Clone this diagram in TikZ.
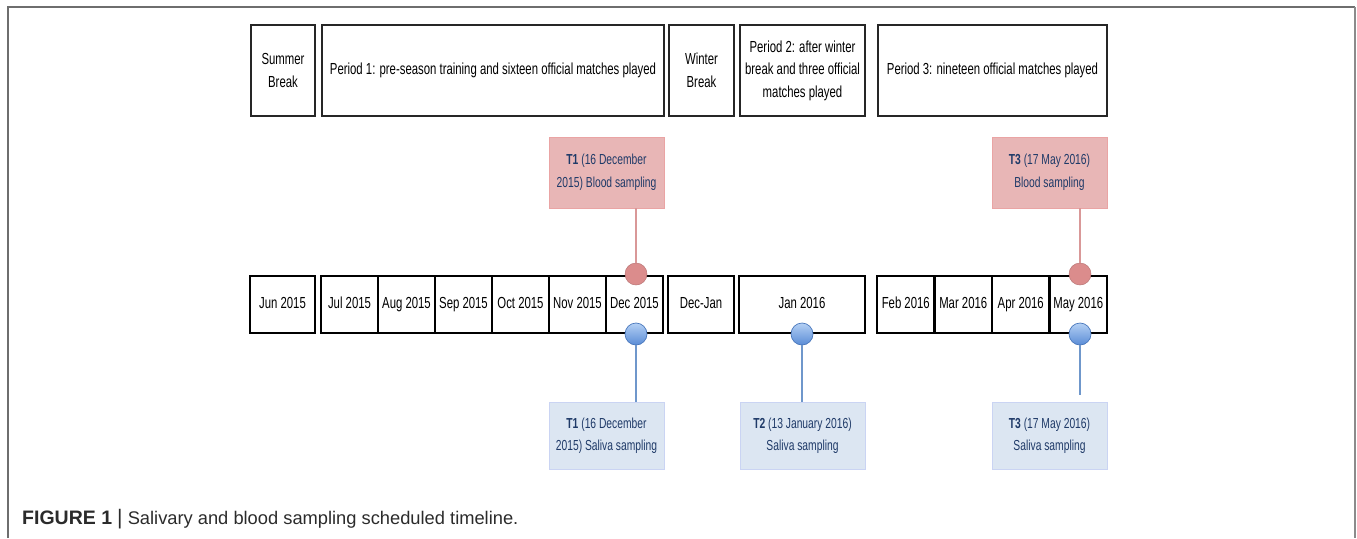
\documentclass[tikz,border=0pt]{standalone}
\usepackage{fontspec}
\setmainfont{Liberation Sans}
\newfontfamily\nar[FakeStretch=0.71]{Liberation Sans}
\definecolor{navy}{HTML}{1F3A68}
\definecolor{redfill}{HTML}{E8B6B6}
\definecolor{redline}{HTML}{D99898}
\definecolor{redcirc}{HTML}{DB8C8C}
\definecolor{bluefill}{HTML}{DCE6F2}
\definecolor{blueline}{HTML}{6F97CB}
\definecolor{bluetop}{HTML}{B4D0F4}
\definecolor{bluebot}{HTML}{5A8CD6}
\definecolor{blueedge}{HTML}{4A78BC}
\definecolor{framegray}{HTML}{6E6E6E}
\definecolor{captext}{HTML}{2B2B2B}
\tikzset{
  period/.style={draw=black!85, line width=1.3pt, inner sep=0pt, outer sep=0pt, minimum height=91pt, align=center, font=\nar\fontsize{16}{22.5}\selectfont},
  month/.style={draw=black, line width=2.4pt, inner sep=0pt, outer sep=0pt, minimum height=57pt, text height=11.5pt, text depth=3.4pt, font=\nar\fontsize{16}{18}\selectfont},
  bloodbox/.style={fill=redfill, draw=redfill!90!red, line width=0.6pt, inner sep=0pt, outer sep=0pt, minimum width=115pt, minimum height=71pt, align=center, text=navy, font=\nar\fontsize{14.5}{23}\selectfont},
  salivabox/.style={fill=bluefill, draw=bluefill!92!blue, line width=0.6pt, inner sep=0pt, outer sep=0pt, minimum height=67pt, align=center, text=navy, font=\nar\fontsize{14.5}{22.5}\selectfont},
  redcircle/.style={circle, fill=redcirc, draw=redcirc!85!black, line width=0.5pt, minimum size=22pt, inner sep=0pt, outer sep=0pt},
  bluecircle/.style={circle, top color=bluetop, bottom color=bluebot, draw=blueedge, line width=0.7pt, minimum size=22pt, inner sep=0pt, outer sep=0pt},
  redconn/.style={draw=redline, line width=1.8pt},
  blueconn/.style={draw=blueline, line width=1.8pt},
}
\begin{document}
\begin{tikzpicture}[x=1pt, y=-1pt]
\useasboundingbox (0,0) rectangle (1357,538);
% frame
\coordinate (ftl) at (8,7);
\coordinate (fbl) at (8,538);
\coordinate (ftr) at (1355,7);
\coordinate (fbr) at (1355,538);
\draw[framegray, line width=1.4pt] (fbl) -- (ftl) -- (ftr);
\draw[framegray!80, line width=2.6pt] (ftr) -- (fbr);

% period boxes
\node[period, minimum width=64pt] (summer) at (283,70.5) {Summer\\Break};
\node[period, minimum width=342pt] (p1) at (493,70.5) {Period 1: pre-season training and sixteen official matches played};
\node[period, minimum width=65pt] (winter) at (701.5,70.5) {Winter\\Break};
\node[period, minimum width=125pt] (p2) at (802.5,70.5) {Period 2: after winter\\break and three official\\matches played};
\node[period, minimum width=229pt] (p3) at (992.5,70.5) {Period 3: nineteen official matches played};

% timeline
\node[month, minimum width=65pt] (jun) at (282.5,304.5) {Jun 2015};
\node[month, minimum width=57pt] (jul) at (349.5,304.5) {Jul 2015};
\node[month, minimum width=57pt] (aug) at (406.5,304.5) {Aug 2015};
\node[month, minimum width=57pt] (sep) at (463.5,304.5) {Sep 2015};
\node[month, minimum width=57pt] (oct) at (520.5,304.5) {Oct 2015};
\node[month, minimum width=57pt] (nov) at (577.5,304.5) {Nov 2015};
\node[month, minimum width=57pt] (dec) at (634.5,304.5) {Dec 2015};
\node[month, minimum width=66pt] (decjan) at (701,304.5) {Dec-Jan};
\node[month, minimum width=126pt] (jan) at (802,304.5) {Jan 2016};
\node[month, minimum width=57.5pt] (feb) at (905.75,304.5) {Feb 2016};
\node[month, minimum width=57.5pt] (mar) at (963.25,304.5) {Mar 2016};
\node[month, minimum width=57.5pt] (apr) at (1020.75,304.5) {Apr 2016};
\node[month, minimum width=57.5pt] (may) at (1078.25,304.5) {May 2016};

% sample boxes
\node[bloodbox] (b1) at (606.5,172.5) {\textbf{T1} (16 December\\2015) Blood sampling};
\node[bloodbox] (b3) at (1049.5,172.5) {\textbf{T3} (17 May 2016)\\Blood sampling};
\node[salivabox, minimum width=115pt] (s1) at (606.5,435.5) {\textbf{T1} (16 December\\2015) Saliva sampling};
\node[salivabox, minimum width=125pt] (s2) at (802.5,435.5) {\textbf{T2} (13 January 2016)\\Saliva sampling};
\node[salivabox, minimum width=115pt] (s3) at (1049.5,435.5) {\textbf{T3} (17 May 2016)\\Saliva sampling};

% markers
\node[redcircle] (r1) at (636,274) {};
\node[redcircle] (r3) at (1080,274) {};
\node[bluecircle] (c1) at (636,334) {};
\node[bluecircle] (c2) at (802,334) {};
\node[bluecircle] (c3) at (1080,334) {};

% connectors
\draw[redconn] (r1.north) -- (r1.north |- b1.south);
\draw[redconn] (r3.north) -- (r3.north |- b3.south);
\draw[blueconn] (c1.south) -- (c1.south |- s1.north);
\draw[blueconn] (c2.south) -- (c2.south |- s2.north);
\draw[blueconn, shorten >=7pt] (c3.south) -- (c3.south |- s3.north);

% caption
\node[anchor=base west, inner sep=0pt, text=captext, font=\fontsize{18.3}{22}\selectfont] (cap) at (22,524) {{\bfseries\fontsize{19.5}{22}\selectfont FIGURE 1} {\fontsize{21}{22}\selectfont|} Salivary and blood sampling scheduled timeline.};
\end{tikzpicture}
\end{document}
